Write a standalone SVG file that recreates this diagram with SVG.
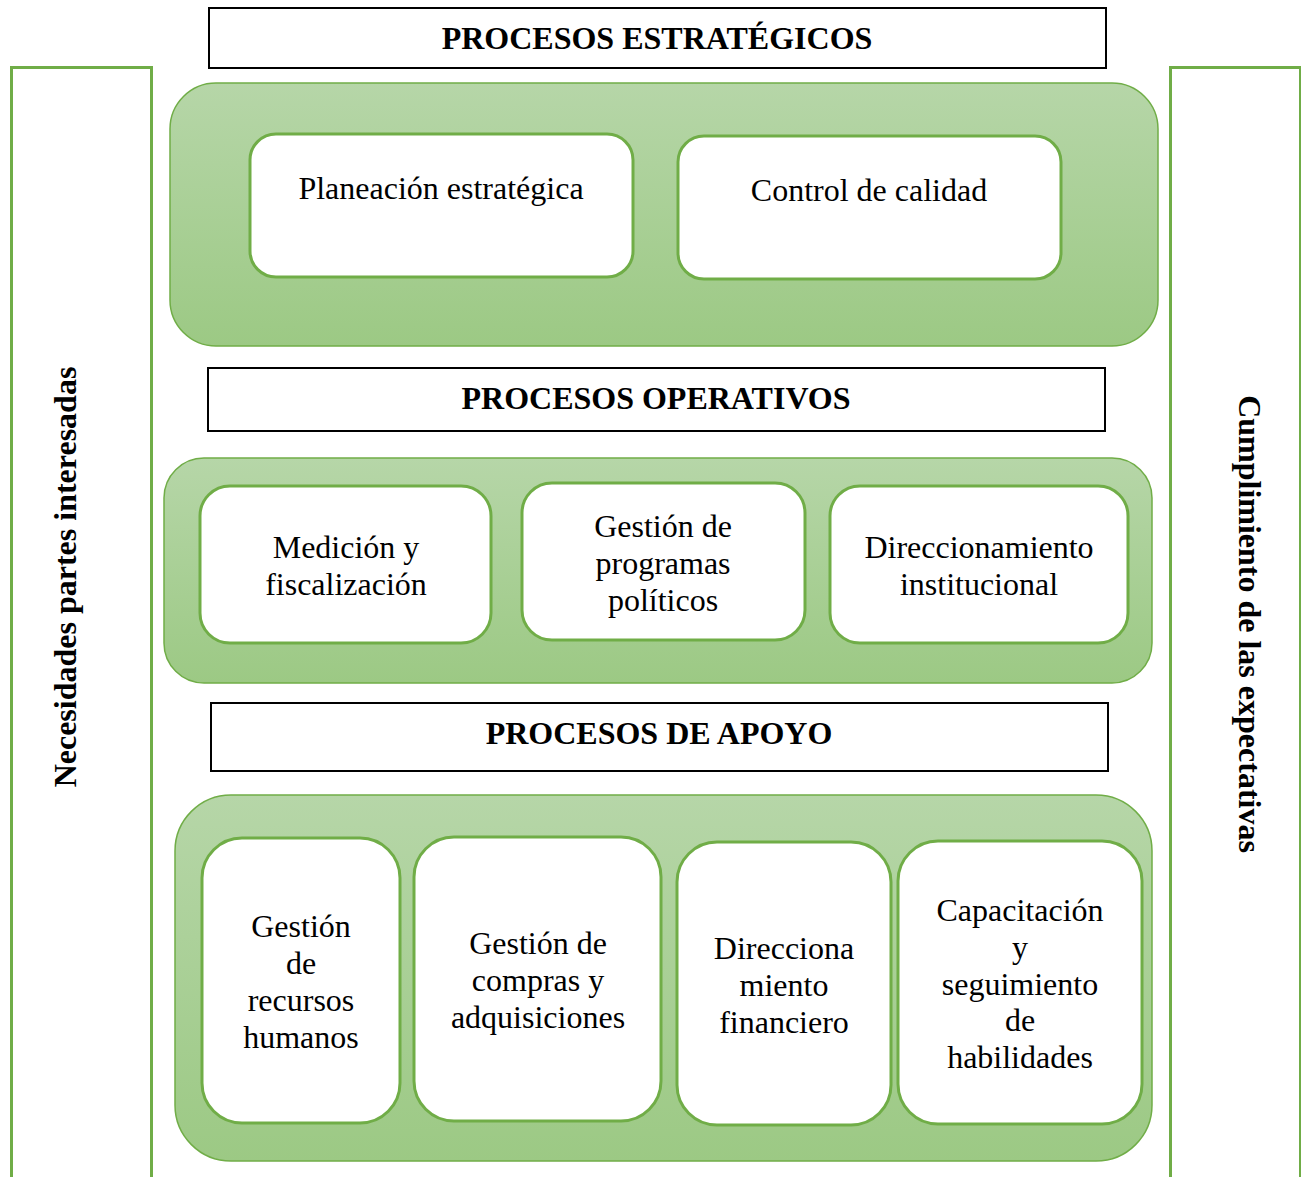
<svg xmlns="http://www.w3.org/2000/svg" width="1301" height="1177" viewBox="0 0 1301 1177">
  <defs>
    <linearGradient id="panelFill" x1="0" y1="0" x2="0" y2="1">
      <stop offset="0" stop-color="#b6d6a8"/>
      <stop offset="1" stop-color="#9cc984"/>
    </linearGradient>
    <style>
      .side { fill: #ffffff; stroke: #70ad47; stroke-width: 3; }
      .title { fill: #ffffff; stroke: #000000; stroke-width: 2; }
      .panel { fill: url(#panelFill); stroke: #70ad47; stroke-width: 1.5; }
      .card { fill: #ffffff; stroke: #70ad47; stroke-width: 3; }
      .head { font-family: "Liberation Serif", "Times New Roman", serif; font-weight: bold; font-size: 32px; fill: #000000; text-anchor: middle; }
      .label { font-family: "Liberation Serif", "Times New Roman", serif; font-size: 32px; fill: #000000; text-anchor: middle; }
    </style>
  </defs>
  <rect width="1301" height="1177" fill="#ffffff"/>

  <!-- side columns -->
  <g id="necesidades">
    <rect class="side" x="11.5" y="67.5" width="140" height="1120"/>
    <text class="head" transform="translate(76,577) rotate(-90)">Necesidades partes interesadas</text>
  </g>
  <g id="cumplimiento">
    <rect class="side" x="1170.5" y="67.5" width="130" height="1120"/>
    <text class="head" transform="translate(1239,624) rotate(90)">Cumplimiento de las expectativas</text>
  </g>

  <!-- strategic processes -->
  <g id="estrategicos-titulo">
    <rect class="title" x="209" y="8" width="897" height="60"/>
    <text class="head" x="657" y="49">PROCESOS ESTRATÉGICOS</text>
  </g>
  <g id="estrategicos">
    <rect class="panel" x="170" y="83" width="988" height="263" rx="46"/>
  </g>
  <g id="planeacion">
    <rect class="card" x="250" y="134" width="383" height="143" rx="26"/>
    <text class="label" x="441" y="199">Planeación estratégica</text>
  </g>
  <g id="control">
    <rect class="card" x="678" y="136" width="383" height="143" rx="26"/>
    <text class="label" x="869" y="201">Control de calidad</text>
  </g>

  <!-- operational processes -->
  <g id="operativos-titulo">
    <rect class="title" x="208" y="368" width="897" height="63"/>
    <text class="head" x="656" y="409">PROCESOS OPERATIVOS</text>
  </g>
  <g id="operativos">
    <rect class="panel" x="164" y="458" width="988" height="225" rx="40"/>
  </g>
  <g id="medicion">
    <rect class="card" x="200" y="486" width="291" height="157" rx="30"/>
    <text class="label" x="346" y="558">Medición y</text>
    <text class="label" x="346" y="595">fiscalización</text>
  </g>
  <g id="programas">
    <rect class="card" x="522" y="483" width="283" height="157" rx="30"/>
    <text class="label" x="663" y="537">Gestión de</text>
    <text class="label" x="663" y="574">programas</text>
    <text class="label" x="663" y="611">políticos</text>
  </g>
  <g id="direccionamiento">
    <rect class="card" x="830" y="486" width="298" height="157" rx="30"/>
    <text class="label" x="979" y="558">Direccionamiento</text>
    <text class="label" x="979" y="595">institucional</text>
  </g>

  <!-- support processes -->
  <g id="apoyo-titulo">
    <rect class="title" x="211" y="703" width="897" height="68"/>
    <text class="head" x="659" y="744">PROCESOS DE APOYO</text>
  </g>
  <g id="apoyo">
    <rect class="panel" x="175" y="795" width="977" height="366" rx="56"/>
  </g>
  <g id="recursos-humanos">
    <rect class="card" x="202" y="838" width="198" height="285" rx="40"/>
    <text class="label" x="301" y="937">Gestión</text>
    <text class="label" x="301" y="974">de</text>
    <text class="label" x="301" y="1011">recursos</text>
    <text class="label" x="301" y="1048">humanos</text>
  </g>
  <g id="compras">
    <rect class="card" x="414" y="837" width="247" height="284" rx="40"/>
    <text class="label" x="538" y="954">Gestión de</text>
    <text class="label" x="538" y="991">compras y</text>
    <text class="label" x="538" y="1028">adquisiciones</text>
  </g>
  <g id="financiero">
    <rect class="card" x="677" y="842" width="214" height="283" rx="40"/>
    <text class="label" x="784" y="959">Direcciona</text>
    <text class="label" x="784" y="996">miento</text>
    <text class="label" x="784" y="1033">financiero</text>
  </g>
  <g id="capacitacion">
    <rect class="card" x="898" y="841" width="244" height="283" rx="40"/>
    <text class="label" x="1020" y="921">Capacitación</text>
    <text class="label" x="1020" y="958">y</text>
    <text class="label" x="1020" y="995">seguimiento</text>
    <text class="label" x="1020" y="1031">de</text>
    <text class="label" x="1020" y="1068">habilidades</text>
  </g>

  <!-- no connectors in this chart -->
  <g id="connectors"/>
</svg>
